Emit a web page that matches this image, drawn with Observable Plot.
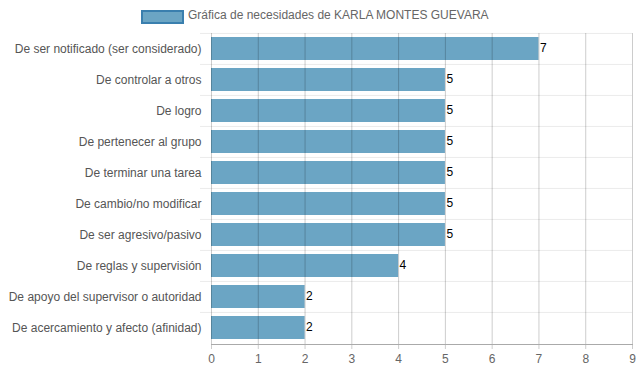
<!DOCTYPE html>
<html>
<head>
<meta charset="utf-8">
<script src="https://cdn.jsdelivr.net/npm/d3@7"></script>
<script src="https://cdn.jsdelivr.net/npm/@observablehq/plot@0.6"></script>
<style>
  body { margin: 0; background: #fff; font-family: "Liberation Sans", Arial, sans-serif; }
  #legend { position: relative; height: 30px; width: 639px; }
  #legend .box { position: absolute; left: 141px; top: 10px; width: 39px; height: 10px; background: #6ba5c4; border: 2px solid #3a7fae; }
  #legend .txt { position: absolute; left: 188px; top: 8px; font-size: 12px; color: #666; }
  svg { display: block; }
</style>
</head>
<body>
<div id="legend"><div class="box"></div><div class="txt">Gráfica de necesidades de KARLA MONTES GUEVARA</div></div>
<div id="chart"></div>
<script>
const categories = [
  "De ser notificado (ser considerado)",
  "De controlar a otros",
  "De logro",
  "De pertenecer al grupo",
  "De terminar una tarea",
  "De cambio/no modificar",
  "De ser agresivo/pasivo",
  "De reglas y supervisión",
  "De apoyo del supervisor o autoridad",
  "De acercamiento y afecto (afinidad)"
];
const values = [7, 5, 5, 5, 5, 5, 5, 4, 2, 2];
const xTicks = [0, 1, 2, 3, 4, 5, 6, 7, 8, 9];

const data = categories.map((c, i) => ({name: c, value: values[i]}));

const W = 639, H = 342, mt = 3, mb = 28, ml = 211, mr = 7;
const step = (H - mt - mb) / categories.length;

const chart = Plot.plot({
  width: W,
  height: H,
  marginTop: mt,
  marginBottom: mb,
  marginLeft: ml,
  marginRight: mr,
  style: {fontFamily: "'Liberation Sans', Arial, sans-serif", fontSize: "12px", color: "#666", background: "#fff"},
  x: {domain: [0, 9], ticks: xTicks, label: null},
  y: {domain: categories, paddingInner: 0.25, paddingOuter: 0.125, label: null},
  marks: [
    Plot.ruleY(categories, {y: d => d, dy: -step / 2, x1: -0.235, x2: 9, stroke: "#ebebeb", strokeWidth: 1}),
    Plot.barX(data, {y: "name", x: "value", fill: "#6ba5c4"}),
    Plot.ruleX(xTicks, {x: d => d, stroke: "rgba(0,0,0,0.2)", strokeWidth: 1, insetBottom: -5}),
    Plot.frame({anchor: "bottom", stroke: "#aaa"}),
    Plot.text(data, {y: "name", x: "value", text: d => String(d.value), textAnchor: "start", dx: 1, dy: -1, fill: "#000", fontSize: 12}),
    Plot.axisX({ticks: xTicks, tickSize: 0, tickPadding: 10, fill: "#666", label: null}),
    Plot.axisY({tickSize: 0, tickPadding: 10, fill: "#555", label: null})
  ]
});
document.getElementById("chart").appendChild(chart);
</script>
</body>
</html>
